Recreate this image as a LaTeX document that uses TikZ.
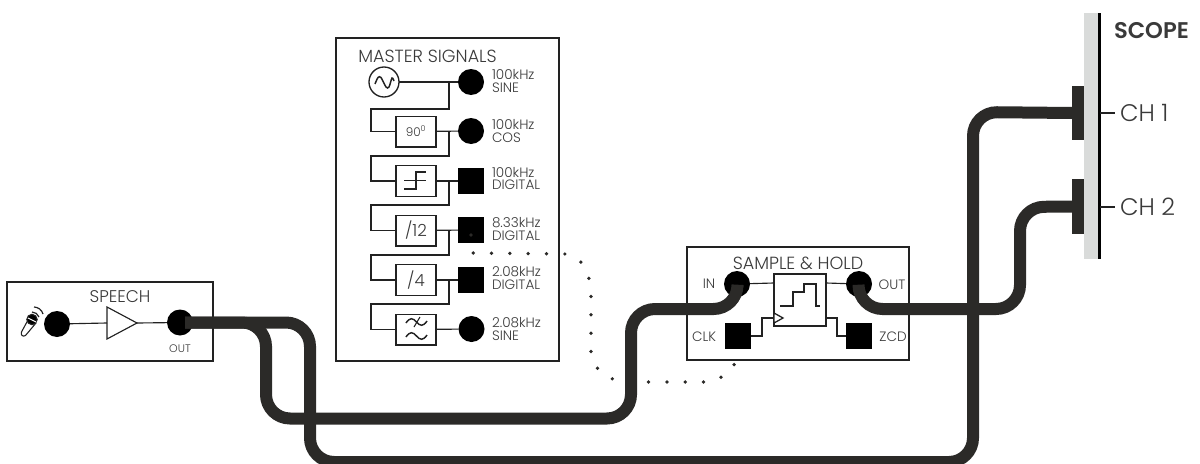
\documentclass[tikz,border=0pt]{standalone}
\usepackage{fontspec}
\setmainfont{Poppins}[UprightFont=* Light,BoldFont=* SemiBold]
\definecolor{wirec}{HTML}{2B2A28}
\definecolor{linec}{HTML}{222222}
\definecolor{textc}{HTML}{3A3A3A}
\definecolor{barc}{HTML}{D9DBDA}
\tikzset{
  module/.style={draw=linec,line width=1.1pt,fill=white,inner sep=0pt,outer sep=0pt},
  fnbox/.style={draw=linec,line width=1pt,fill=white,inner sep=0pt,outer sep=0pt,minimum width=30pt,minimum height=23pt,text=textc,font=\fontsize{12.5}{14}\selectfont},
  termc/.style={circle,fill=black,inner sep=0pt,outer sep=0pt,minimum size=19.5pt},
  terms/.style={rectangle,fill=black,inner sep=0pt,outer sep=0pt,minimum size=19.5pt},
  link/.style={draw=linec,line width=0.85pt},
  wire/.style={draw=wirec,line width=9pt,rounded corners=18pt},
  lab/.style={inner sep=0pt,outer sep=0pt,text=textc,font=\fontsize{10.2}{9.2}\selectfont,align=left,anchor=west},
  tag/.style={inner sep=0pt,outer sep=0pt,text=textc,font=\fontsize{10.2}{12}\selectfont},
  head/.style={inner sep=0pt,outer sep=0pt,text=textc,font=\fontsize{13.2}{15}\selectfont},
  chan/.style={inner sep=0pt,outer sep=0pt,text=textc,anchor=west,font=\fontsize{18}{20}\selectfont},
  dotline/.style={draw=wirec,line width=2.8pt,line cap=round,dash pattern=on 0pt off 13.75pt},
}
\begin{document}
\begin{tikzpicture}[x=0.75pt,y=-0.75pt]
\useasboundingbox (0,0) rectangle (1200,464);
\clip (0,0) rectangle (1200,464);
% modules
\node[module,minimum width=167.25pt,minimum height=242.25pt] (master) at (447.5,199.5) {};
\node[module,minimum width=154.5pt,minimum height=59.25pt] (speech) at (110,321.5) {};
\node[module,minimum width=166.5pt,minimum height=84.75pt] (sah) at (798,303.5) {};
\node[head] (mastert) at (427.5,56) {MASTER SIGNALS};
\node[head,font=\fontsize{12.7}{15}\selectfont] (speecht) at (120,297) {SPEECH};
\node[head] (saht) at (798,263) {SAMPLE \& HOLD};
% master signals
\node[circle,draw=linec,line width=1pt,fill=white,inner sep=0pt,outer sep=0pt,minimum size=22.5pt] (sine) at (384,82) {};
\draw[linec,line width=1.1pt] plot[smooth] coordinates {(375,84) (378,77.5) (381,77.5) (386,87) (389,87) (392,78) (394,81)};
\node[termc] (t1) at (471,82) {};
\node[fnbox,font=\fontsize{9}{10}\selectfont] (b2) at (416,131.5) {90\textsuperscript{0}};
\node[termc] (t2) at (471,131) {};
\node[fnbox] (b3) at (416,181) {};
\node[terms] (t3) at (471,181) {};
\node[fnbox] (b4) at (416,230.5) {/12};
\node[terms] (t4) at (471,230) {};
\node[fnbox] (b5) at (416,280) {/4};
\node[terms] (t5) at (471,280) {};
\node[fnbox] (b6) at (416,329.5) {};
\node[termc] (t6) at (471.5,329) {};
\draw[link] (sine) -- (t1);
\draw[link] (b2) -- (t2);
\draw[link] (b3) -- (t3);
\draw[link] (b4) -- (t4);
\draw[link] (b5) -- (t5);
\draw[link] (b6) -- (t6);
\coordinate (j1) at (449,82);
\coordinate (j2) at (449,131);
\coordinate (j3) at (449,181);
\coordinate (j4) at (449,230);
\coordinate (j5) at (449,280);
\draw[link] (j1) |- (371,109) |- (b2.west);
\draw[link] (j2) |- (371,156) |- (b3.west);
\draw[link] (j3) |- (371,205) |- (b4.west);
\draw[link] (j4) |- (371,255) |- (b5.west);
\draw[link] (j5) |- (371,304) |- (b6.west);
% symbols
\draw[linec,line width=1.3pt] (404,189) -- (416,189) -- (416,172) -- (426,172);
\draw[linec,line width=0.7pt] (404,180) -- (426,180);
\draw[linec,line width=1.1pt] (406,323) .. controls (410,317) and (413,318) .. (416.5,322) .. controls (420,326) and (423,327) .. (427,321);
\draw[linec,line width=1.1pt] (406,337) .. controls (410,331) and (413,332) .. (416.5,336) .. controls (420,340) and (423,341) .. (427,335);
\draw[linec,line width=0.8pt] (414,327) -- (420,317);
% labels master
\node[lab] (l1) at (492,81) {100kHz\\SINE};
\node[lab] (l2) at (492,131) {100kHz\\COS};
\node[lab] (l3) at (492,178.5) {100kHz\\DIGITAL};
\node[lab] (l4) at (492,229) {8.33kHz\\DIGITAL};
\node[lab] (l5) at (492,278) {2.08kHz\\DIGITAL};
\node[lab] (l6) at (492,329) {2.08kHz\\SINE};
% speech
\node[termc] (micin) at (57,324) {};
\node[termc] (spout) at (180,322.5) {};
\coordinate (ampin) at (107,323);
\coordinate (ampout) at (137,323);
\draw[link] (micin) -- (ampin);
\draw[link] (ampout) -- (spout);
\draw[linec,line width=0.85pt] (107,307) -- (137,323) -- (107,339) -- cycle;
\node[tag,font=\fontsize{8.2}{9}\selectfont] (outa) at (180,349) {OUT};
% microphone
\draw[linec,line width=0.8pt,line join=round] (28,320) -- (21.5,332) .. controls (20.5,335.5) and (23,337) .. (25.5,335.5) -- (36,323);
\draw[linec,line width=0.8pt,fill=black] (32,319.5) circle[radius=5.2];
\draw[white,line width=0.8pt] (28,318) -- (36,322);
\draw[linec,line width=0.9pt] (32,312) .. controls (35,312) and (38,314) .. (39,317);
\draw[linec,line width=0.9pt] (34,307) .. controls (38,307) and (42,310) .. (43,314);
% sample and hold
\node[fnbox,minimum width=39pt,minimum height=39pt,line width=1.2pt] (sh) at (800,300) {};
\node[termc] (in) at (737,284) {};
\node[termc] (out) at (859,284) {};
\node[terms] (clk) at (737.5,336) {};
\node[terms] (zcd) at (859,336) {};
\coordinate (shin) at (774,283);
\coordinate (shout) at (826,283);
\coordinate (shclk) at (774,318);
\coordinate (shzcd) at (826,318);
\draw[link] (in) -- (shin);
\draw[link] (shout) -- (out);
\draw[link] (clk.east) -| (762,318) -- (shclk);
\draw[link] (shzcd) -- (837,318) |- (zcd.west);
\draw[linec,line width=0.95pt,fill=white] (774,313) -- (783,318) -- (774,323) -- cycle;
\draw[linec,line width=1pt] (780,306) -- (793,306) -- (793,292) -- (804,292) -- (804,284) -- (816,284) -- (816,306) -- (820,306);
\node[tag] (inl) at (709,284) {IN};
\node[tag] (clkl) at (704,337) {CLK};
\node[tag] (outl) at (892,285) {OUT};
\node[tag] (zcdl) at (893,337) {ZCD};
% scope
\fill[barc] (1084,13) rectangle (1098,259);
\coordinate (scopetop) at (1099.5,13);
\coordinate (scopebot) at (1099.5,259);
\draw[black,line width=2.2pt] (scopetop) -- (scopebot);
\node[rectangle,fill=wirec,inner sep=0pt,outer sep=0pt,minimum width=9pt,minimum height=40.5pt] (p1) at (1078,113) {};
\node[rectangle,fill=wirec,inner sep=0pt,outer sep=0pt,minimum width=9pt,minimum height=41.25pt] (p2) at (1078,206.5) {};
\node[chan] (ch1) at (1120,113) {CH 1};
\node[chan] (ch2) at (1120,207) {CH 2};
\draw[linec,line width=0.9pt] (scopetop |- ch1) -- ([xshift=-3.75pt]ch1.west);
\draw[linec,line width=0.9pt] (scopetop |- ch2) -- ([xshift=-3.75pt]ch2.west);
\node[inner sep=0pt,outer sep=0pt,anchor=west,text=textc,font=\fontsize{17}{19}\selectfont\bfseries] (scope) at (1114,31) {SCOPE};
% dotted patch
\coordinate (clkb) at (739,350);
\draw[dotline] ([yshift=-3.75pt]t4.center) .. controls (471,240) and (472,246) .. (473,253) -- (565,254) .. controls (582,256) and (591,272) .. (591,297) -- (591,352) .. controls (592,370) and (610,382) .. (629,382) -- (703,382) .. controls (722,382) and (737,368) .. (clkb);
% wires
\coordinate (ws) at (185,322.5);
\coordinate (ein) at (737.5,287);
\coordinate (eout) at (858.5,287);
\draw[wire] (ws) -- (266,322.5) -- (266,418.5) -- (631,418.5) -- (631,309) -- (737.5,309) -- (ein);
\draw[wire] (ws) -- (310,322.5) -- (310,462) -- (973,462) -- (973,112) -- (p1.west);
\draw[wire] (eout) -- (858.5,309) -- (1020,309) -- (1020,207) -- (p2.west);
\end{tikzpicture}
\end{document}
